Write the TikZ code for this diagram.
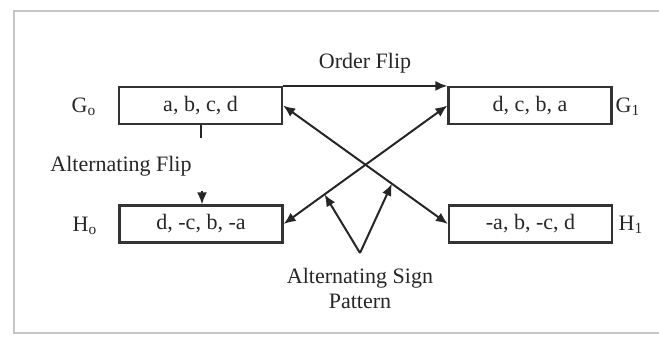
\documentclass[tikz,border=0pt]{standalone}
\usepackage{fontspec}
\setmainfont{Liberation Serif}
\usetikzlibrary{arrows.meta,calc}
\begin{document}
\begin{tikzpicture}[
                  x=0.5pt, y=-0.5pt,
                  font=\fontsize{11}{12.5}\selectfont,
                  every node/.style={text=black!85},
                  seqbox/.style={draw=black!80, line width=1.1pt,
                    minimum width=81.5pt, minimum height=18.5pt, inner sep=0pt},
                  wire/.style={draw=black!85, line width=1pt},
                  onehead/.style={wire, -{Latex[length=6pt,width=5pt]}},
                  twohead/.style={wire, {Latex[length=6pt,width=5pt]}-{Latex[length=6pt,width=5pt]}}
                ]
                  \useasboundingbox (0,0) rectangle (659,338);
                  \draw[gray!45, line width=1pt] (659,11) -- (14,11) -- (14,333) -- (659,333);
                  \node[seqbox] (G0) at (200.5,105.5) {a, b, c, d};
                  \node[seqbox] (G1) at (530,105.5) {d, c, b, a};
                  \node[seqbox] (H0) at (201,224) {d, -c, b, -a};
                  \node[seqbox] (H1) at (530.5,224) {-a, b, -c, d};
                  \node (g0) at (84,107) {G\textsubscript{o}};
                  \node (g1) at (628,107) {G\textsubscript{1}};
                  \node (h0) at (85,226) {H\textsubscript{o}};
                  \node (h1) at (631,225) {H\textsubscript{1}};
                  \node (order) at (365,63) {Order Flip};
                  \node (altflip) at (121,166) {Alternating Flip};
                  \node[align=center] (sign) at (360,288) {Alternating Sign\\Pattern};
                  \coordinate (tick) at (200.5,138);
                  \coordinate (drop) at (202,191);
                  \coordinate (apex) at (360,253);
                  \draw[onehead] (G0.north east) -- (G1.north west);
                  \draw[wire] (G0.south) -- (tick);
                  \draw[onehead] (drop) -- (drop |- H0.north);
                  \draw[twohead] (H0.east) -- (G1.west);
                  \draw[twohead] (G0.east) -- (H1.west);
                  \draw[onehead] (apex) -- ($(H0.east)!0.25!(G1.west)$);
                  \draw[onehead] (apex) -- ($(G0.east)!0.66!(H1.west)$);
                \end{tikzpicture}
\end{document}
